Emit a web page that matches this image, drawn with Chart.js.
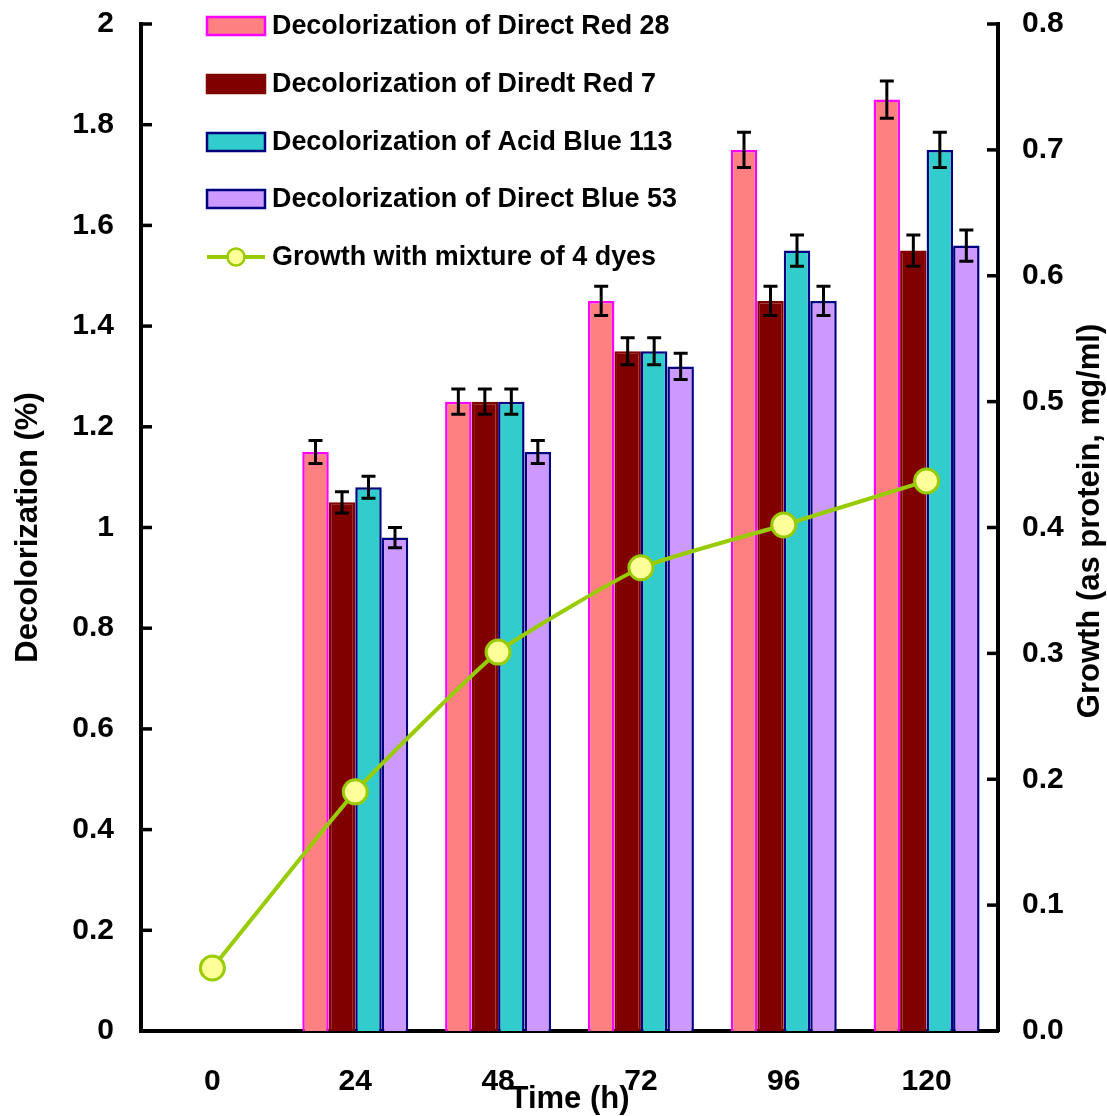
<!DOCTYPE html>
<html>
<head>
<meta charset="utf-8">
<script src="https://cdn.jsdelivr.net/npm/chart.js@4.4.1/dist/chart.umd.min.js"></script>
<style>
html,body{margin:0;padding:0;background:#fff;}
#wrap{width:1107px;height:1116px;}
</style>
</head>
<body>
<div id="wrap"><canvas id="c" width="1107" height="1116"></canvas></div>
<script>
// ---- data ----
const categories = ['0', '24', '48', '72', '96', '120'];
const directRed28 = [null, 1.15, 1.25, 1.45, 1.75, 1.85];
const directRed28Err = [null, 0.023, 0.025, 0.029, 0.035, 0.037];
const direcdtRed7 = [null, 1.05, 1.25, 1.35, 1.45, 1.55];
const direcdtRed7Err = [null, 0.021, 0.025, 0.027, 0.029, 0.031];
const acidBlue113 = [null, 1.08, 1.25, 1.35, 1.55, 1.75];
const acidBlue113Err = [null, 0.022, 0.025, 0.027, 0.031, 0.035];
const directBlue53 = [null, 0.98, 1.15, 1.32, 1.45, 1.56];
const directBlue53Err = [null, 0.020, 0.023, 0.026, 0.029, 0.031];
const growth = [0.05, 0.19, 0.301, 0.368, 0.402, 0.437];
const seriesNames = [
  'Decolorization of Direct Red 28',
  'Decolorization of Diredt Red 7',
  'Decolorization of Acid Blue 113',
  'Decolorization of Direct Blue 53',
  'Growth with mixture of 4 dyes'
];
const leftTitle = 'Decolorization (%)';
const rightTitle = 'Growth (as protein, mg/ml)';
const xTitle = 'Time (h)';

const FONT = '"Liberation Sans", Arial, sans-serif';
const barStyles = [
  {fill:'#ff8080', border:'#ff00ff'},
  {fill:'#800000', border:'#800000'},
  {fill:'#33cccc', border:'#000080'},
  {fill:'#cc99ff', border:'#000080'}
];
const barValues = [directRed28, direcdtRed7, acidBlue113, directBlue53];
const barErrors = [directRed28Err, direcdtRed7Err, acidBlue113Err, directBlue53Err];
const lineColor = '#99cc00';
const pointFill = '#ffff99';

const datasets = barValues.map((vals, i) => ({
  type: 'bar',
  label: seriesNames[i],
  data: vals,
  yAxisID: 'y',
  backgroundColor: barStyles[i].fill,
  borderColor: barStyles[i].border,
  borderWidth: 2.5,
  borderSkipped: 'start',
  categoryPercentage: 0.742,
  barPercentage: 1.0,
  order: 2
}));
datasets.push({
  type: 'line',
  label: seriesNames[4],
  data: growth,
  yAxisID: 'y2',
  borderColor: lineColor,
  borderWidth: 4,
  pointBackgroundColor: pointFill,
  pointBorderColor: lineColor,
  pointBorderWidth: 3,
  pointRadius: 12,
  tension: 0.15,
  order: 1
});

const errorPlugin = {
  id: 'errbars',
  afterDatasetDraw(chart, args) {
    const di = args.index;
    if (di > 3) return;
    const ctx = chart.ctx, ys = chart.scales.y;
    const meta = chart.getDatasetMeta(di);
    ctx.save();
    ctx.strokeStyle = '#000';
    ctx.lineWidth = 3;
    meta.data.forEach((el, i) => {
      const v = barValues[di][i], e = barErrors[di][i];
      if (v == null) return;
      const x = el.x;
      const yt = ys.getPixelForValue(v + e), yb = ys.getPixelForValue(v - e);
      ctx.beginPath();
      ctx.moveTo(x, yt); ctx.lineTo(x, yb);
      ctx.moveTo(x - 7, yt); ctx.lineTo(x + 7, yt);
      ctx.moveTo(x - 7, yb); ctx.lineTo(x + 7, yb);
      ctx.stroke();
    });
    ctx.restore();
  }
};

const decorPlugin = {
  id: 'decor',
  afterDraw(chart) {
    const ctx = chart.ctx, ca = chart.chartArea;
    const ys = chart.scales.y, y2 = chart.scales.y2;
    ctx.save();
    // inside tick marks
    ctx.strokeStyle = '#000';
    ctx.lineWidth = 3.5;
    ys.ticks.forEach(t => {
      const p = ys.getPixelForValue(t.value);
      ctx.beginPath(); ctx.moveTo(ca.left, p); ctx.lineTo(ca.left + 11, p); ctx.stroke();
    });
    y2.ticks.forEach(t => {
      const p = y2.getPixelForValue(t.value);
      ctx.beginPath(); ctx.moveTo(ca.right, p); ctx.lineTo(ca.right - 11, p); ctx.stroke();
    });
    // axis titles
    ctx.fillStyle = '#000';
    ctx.font = 'bold 31px ' + FONT;
    ctx.textAlign = 'center';
    ctx.textBaseline = 'middle';
    ctx.fillText(xTitle, (ca.left + ca.right) / 2, 1099);
    ctx.save();
    ctx.translate(28, (ca.top + ca.bottom) / 2);
    ctx.rotate(-Math.PI / 2);
    ctx.fillText(leftTitle, 0, 0);
    ctx.restore();
    ctx.save();
    ctx.translate(1090, 521);
    ctx.rotate(-Math.PI / 2);
    ctx.fillText(rightTitle, 0, 0);
    ctx.restore();
    // legend
    ctx.font = 'bold 26.9px ' + FONT;
    ctx.textAlign = 'left';
    const rowY = [26, 84, 142, 199, 257];
    for (let i = 0; i < 4; i++) {
      ctx.fillStyle = barStyles[i].fill;
      ctx.fillRect(207, rowY[i] - 9, 58, 18);
      ctx.strokeStyle = barStyles[i].border;
      ctx.lineWidth = 2.5;
      ctx.strokeRect(207, rowY[i] - 9, 58, 18);
      ctx.fillStyle = '#000';
      ctx.fillText(seriesNames[i], 272, rowY[i] + 1);
    }
    ctx.strokeStyle = lineColor;
    ctx.lineWidth = 4;
    ctx.beginPath(); ctx.moveTo(207, rowY[4]); ctx.lineTo(265, rowY[4]); ctx.stroke();
    ctx.beginPath(); ctx.arc(236, rowY[4], 8.5, 0, Math.PI * 2);
    ctx.fillStyle = pointFill; ctx.fill();
    ctx.lineWidth = 2.5; ctx.stroke();
    ctx.fillStyle = '#000';
    ctx.fillText(seriesNames[4], 272, rowY[4] + 1);
    ctx.restore();
  }
};

const tickFont = {family: FONT, size: 30, weight: 'bold'};

new Chart(document.getElementById('c'), {
  type: 'bar',
  data: {labels: categories, datasets},
  plugins: [errorPlugin, decorPlugin],
  options: {
    responsive: false,
    animation: false,
    layout: {padding: {top: 24, left: 0, right: 0, bottom: 0}},
    plugins: {legend: {display: false}, tooltip: {enabled: false}},
    scales: {
      x: {
        grid: {display: false, drawTicks: false},
        border: {display: true, color: '#000', width: 4},
        ticks: {color: '#000', font: tickFont, padding: 33, maxRotation: 0},
        afterFit(s) { s.height = 85; s.paddingLeft = 0; s.paddingRight = 0; }
      },
      y: {
        position: 'left',
        min: 0, max: 2,
        grid: {display: false, drawTicks: false},
        border: {display: true, color: '#000', width: 4},
        ticks: {color: '#000', font: tickFont, stepSize: 0.2, padding: 27,
                callback: v => String(Number(Number(v).toFixed(1)))},
        afterFit(s) { s.width = 141; s.paddingTop = 0; s.paddingBottom = 0; }
      },
      y2: {
        position: 'right',
        min: 0, max: 0.8,
        grid: {display: false, drawTicks: false},
        border: {display: true, color: '#000', width: 4},
        ticks: {color: '#000', font: tickFont, stepSize: 0.1, padding: 24,
                callback: v => Number(v).toFixed(1)},
        afterFit(s) { s.width = 109; s.paddingTop = 0; s.paddingBottom = 0; }
      }
    }
  }
});
</script>
</body>
</html>
